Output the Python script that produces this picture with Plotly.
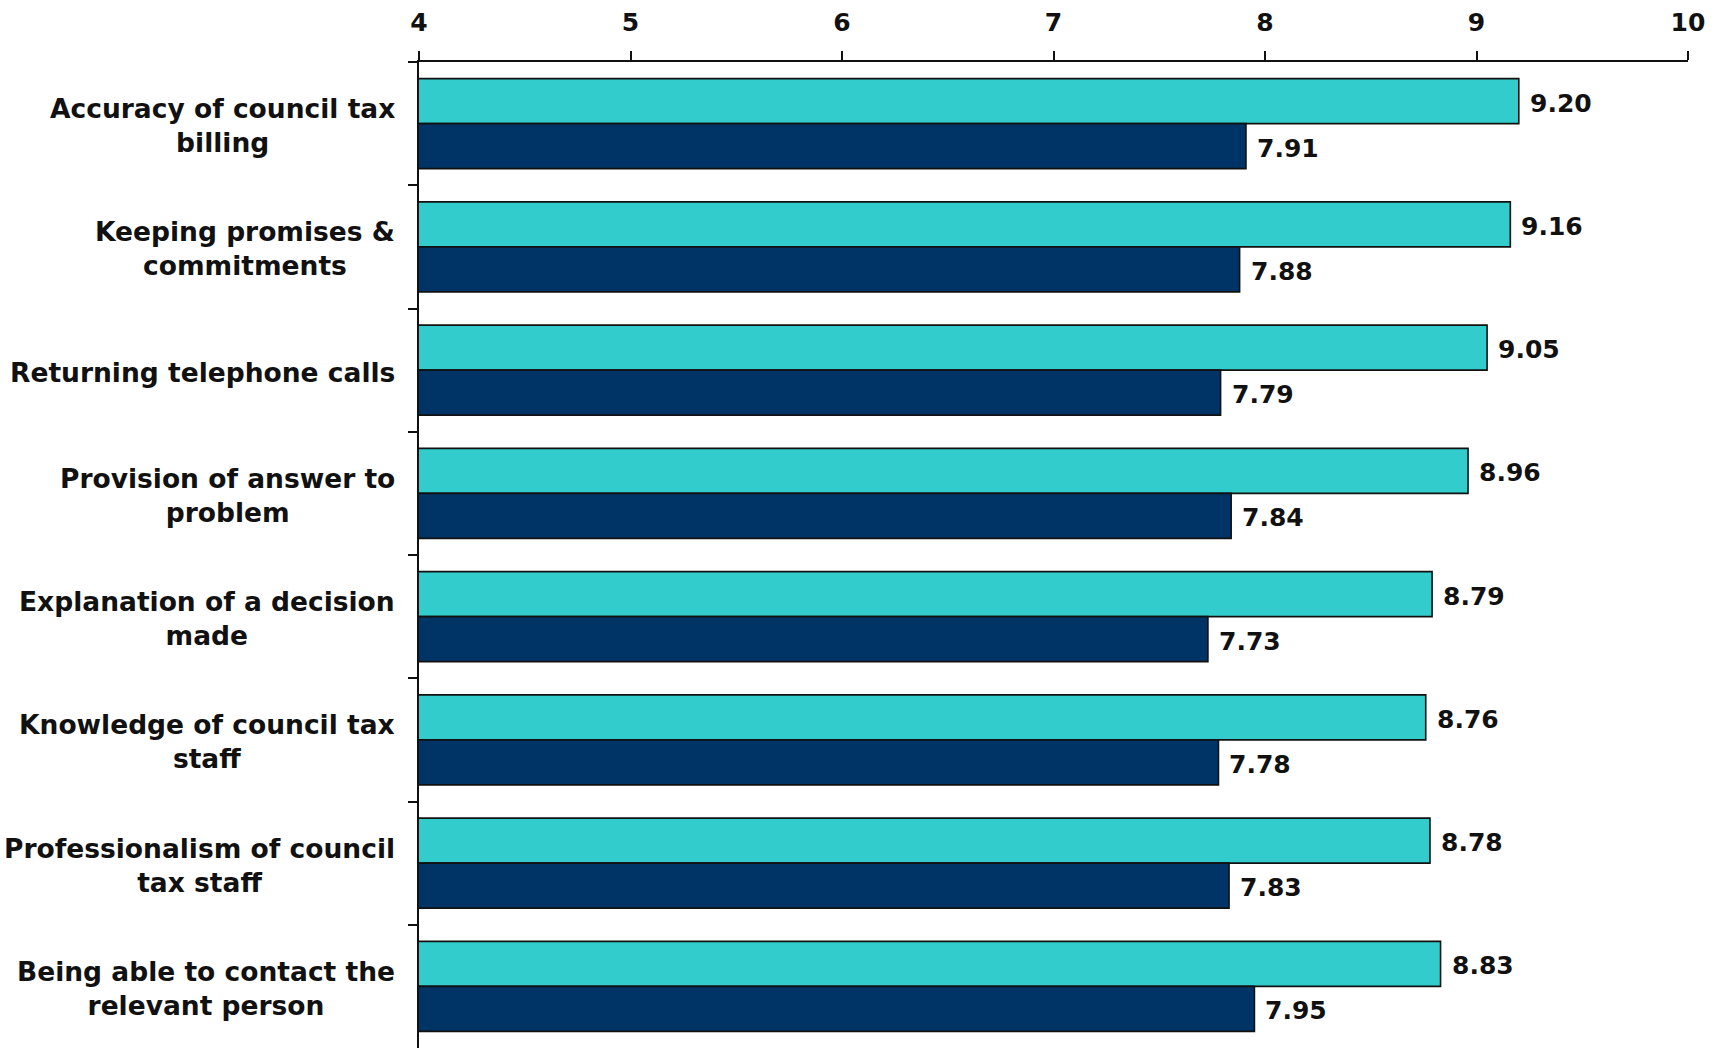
import plotly.graph_objects as go

# Service aspects, top to bottom
categories = [
    "Accuracy of council tax<br>billing",
    "Keeping promises &<br>commitments",
    "Returning telephone calls",
    "Provision of answer to<br>problem",
    "Explanation of a decision<br>made",
    "Knowledge of council tax<br>staff",
    "Professionalism of council<br>tax staff",
    "Being able to contact the<br>relevant person",
]
importance = [9.20, 9.16, 9.05, 8.96, 8.79, 8.76, 8.78, 8.83]
performance = [7.91, 7.88, 7.79, 7.84, 7.73, 7.78, 7.83, 7.95]
x_ticks = [4, 5, 6, 7, 8, 9, 10]

TEAL = "#33CCCC"
NAVY = "#003366"
FONT = "DejaVu Sans"
BARGAP = 0.27

fig = go.Figure()
for name, vals, col in [("Importance", importance, TEAL), ("Performance", performance, NAVY)]:
    fig.add_trace(go.Bar(
        name=name, y=categories, x=vals, orientation="h",
        marker=dict(color=col, line=dict(color="#111111", width=1.6)),
        hoverinfo="x+y",
    ))

annotations = []
# Category labels, centred lines, right-aligned block left of the axis
for i, cat in enumerate(categories):
    annotations.append(dict(
        xref="paper", yref="y", x=0, y=i, xanchor="right", yanchor="middle",
        xshift=-22, yshift=-2, text=cat, align="center", showarrow=False,
        font=dict(family=FONT, size=26.5, color="#111111", weight="bold"),
    ))

# Value labels at the end of each bar
half = (1 - BARGAP) / 4
for vals, off in [(importance, -half), (performance, half)]:
    for i, v in enumerate(vals):
        annotations.append(dict(
            xref="x", yref="y", x=v, y=i + off, xanchor="left", yanchor="middle",
            xshift=9, yshift=-2, text=f"{v:.2f}", showarrow=False,
            font=dict(family=FONT, size=25, color="#111111", weight="bold"),
        ))

fig.update_layout(
    width=1722, height=1048,
    margin=dict(l=419, r=34, t=62, b=0, pad=0),
    paper_bgcolor="white", plot_bgcolor="white",
    barmode="group", bargap=BARGAP, bargroupgap=0,
    showlegend=False,
    annotations=annotations,
    xaxis=dict(
        side="top", range=[4, 10], tickvals=x_ticks,
        ticks="outside", ticklen=9, tickwidth=1.6, tickcolor="#111111",
        ticklabelstandoff=10,
        showline=True, linecolor="#111111", linewidth=1.6,
        showgrid=False, zeroline=False,
        tickfont=dict(family=FONT, size=25, color="#111111", weight="bold"),
    ),
    yaxis=dict(
        type="category", autorange="reversed",
        showticklabels=False, ticks="outside", tickson="boundaries",
        ticklen=9, tickwidth=1.6, tickcolor="#111111",
        showline=True, linecolor="#111111", linewidth=1.6,
        showgrid=False, zeroline=False,
    ),
)

fig.write_html("out.html")
